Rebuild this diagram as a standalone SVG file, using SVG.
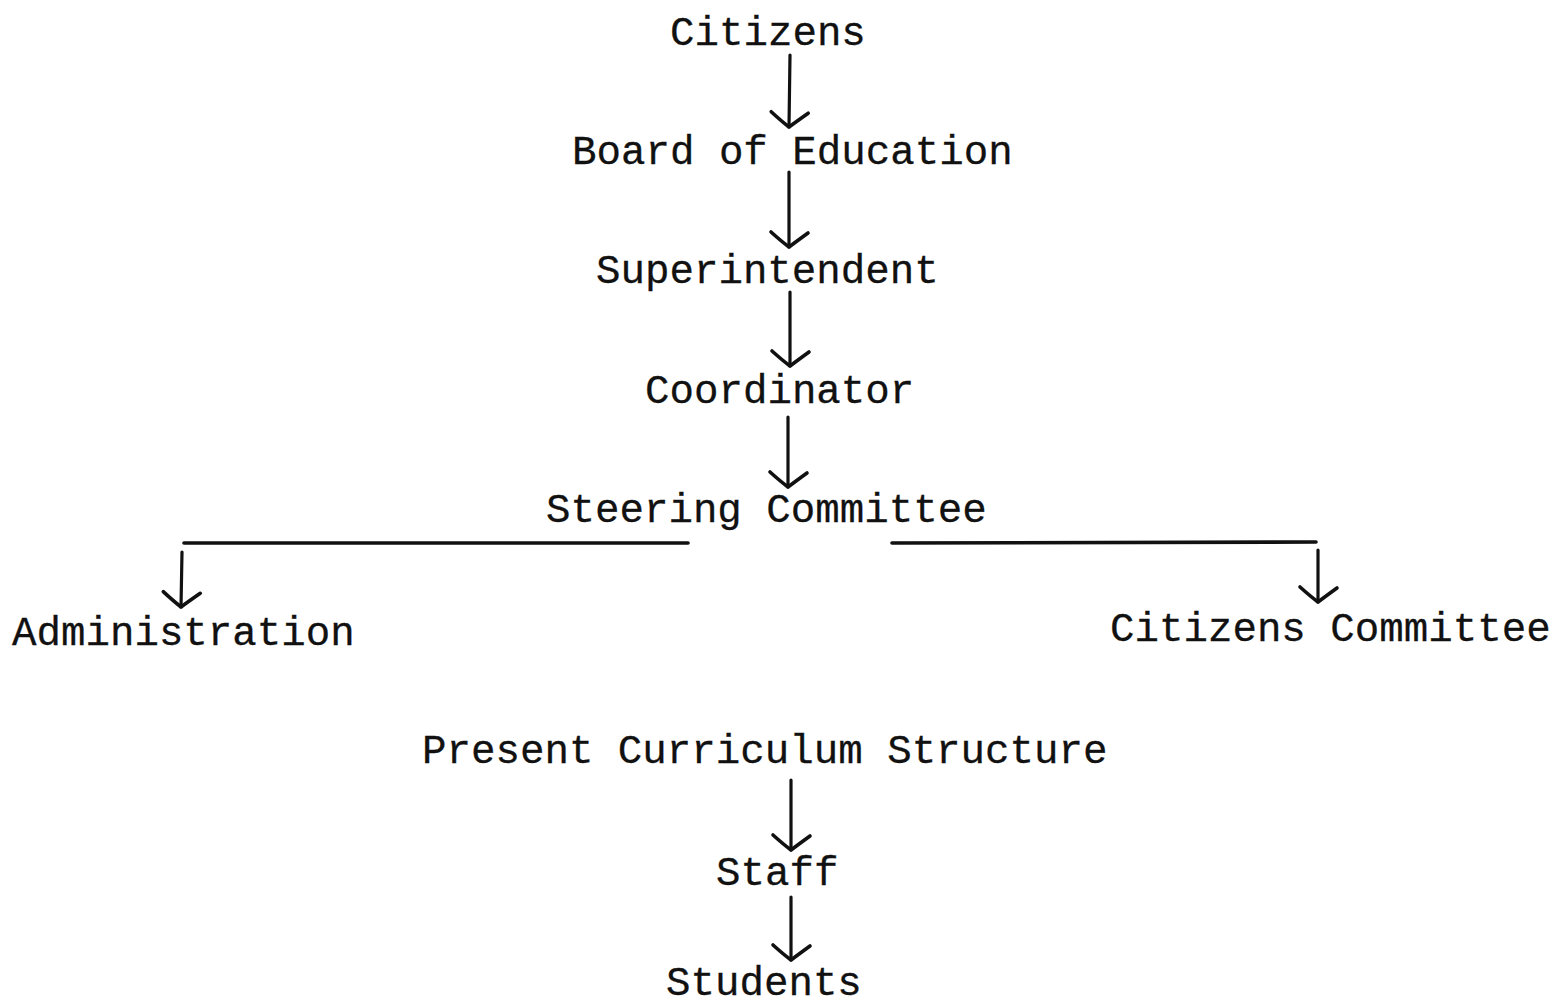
<svg xmlns="http://www.w3.org/2000/svg" width="1553" height="1007" viewBox="0 0 1553 1007">
<defs>
<style>
.t{font-family:"Liberation Mono","Courier New",monospace;font-size:40.8px;fill:#111;stroke:#111;stroke-width:0.3}
.c{fill:none;stroke:#111;stroke-width:3.2;stroke-linecap:round;stroke-linejoin:round}
.h{fill:none;stroke:#111;stroke-width:3.6;stroke-linecap:round}
</style>
<marker id="ah" markerUnits="userSpaceOnUse" markerWidth="40" markerHeight="40" viewBox="-20 -20 40 40" refX="0" refY="0" orient="auto" overflow="visible">
<path d="M-14,-19 Q-6,-8 0,0 Q-6,8 -15,18" fill="none" stroke="#111" stroke-width="3.6" stroke-linecap="round" stroke-linejoin="round"/>
</marker>
</defs>
<rect width="1553" height="1007" fill="#fff"/>
<g id="connectors">
<path class="c" d="M790,55 L789,127" marker-end="url(#ah)"/>
<path class="c" d="M789,172 L789,247" marker-end="url(#ah)"/>
<path class="c" d="M790,292 L790,366" marker-end="url(#ah)"/>
<path class="c" d="M788,417 L788,487" marker-end="url(#ah)"/>
<path class="h" d="M184,543 L688,543"/>
<path class="h" d="M892,543 L1316,542"/>
<path class="c" d="M182,552 L181,607" marker-end="url(#ah)"/>
<path class="c" d="M1318,550 L1318,602" marker-end="url(#ah)"/>
<path class="c" d="M791,780 L791,850" marker-end="url(#ah)"/>
<path class="c" d="M791,897 L791,960" marker-end="url(#ah)"/>
</g>
<g id="citizens"><text class="t" x="670" y="45">Citizens</text></g>
<g id="board"><text class="t" x="572" y="164">Board of Education</text></g>
<g id="superintendent"><text class="t" x="596" y="283">Superintendent</text></g>
<g id="coordinator"><text class="t" x="645" y="403">Coordinator</text></g>
<g id="steering"><text class="t" x="546" y="522">Steering Committee</text></g>
<g id="administration"><text class="t" x="12" y="645">Administration</text></g>
<g id="citizens-committee"><text class="t" x="1110" y="641">Citizens Committee</text></g>
<g id="curriculum"><text class="t" x="422" y="763">Present Curriculum Structure</text></g>
<g id="staff"><text class="t" x="716" y="885">Staff</text></g>
<g id="students"><text class="t" x="666" y="995">Students</text></g>
</svg>
